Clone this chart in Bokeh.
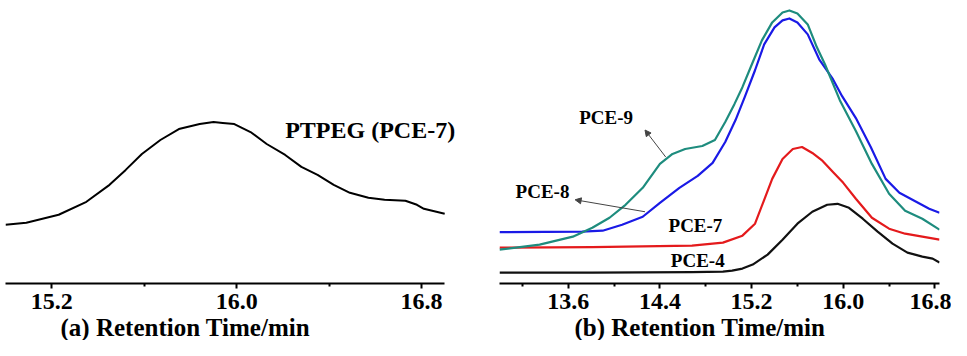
from bokeh.plotting import figure
from bokeh.layouts import row
from bokeh.models import Range1d, FixedTicker, Label, Arrow, NormalHead, Title
from bokeh.embed import file_html
from bokeh.resources import INLINE

# ---------------- data ----------------
# panel (a): PTPEG (PCE-7)
time_a = [15.00, 15.09, 15.23, 15.35, 15.45, 15.52, 15.59, 15.67, 15.75, 15.84, 15.90,
          15.94, 15.99, 16.06, 16.13, 16.21, 16.28, 16.35, 16.42, 16.49, 16.57, 16.64,
          16.73, 16.78, 16.81, 16.90]
sig_a = [59, 61, 69, 82, 99, 114, 130, 144, 155, 160, 162, 161, 160, 152, 140, 129, 117,
         109, 99, 91, 86, 84, 83, 79, 75, 70]

# panel (b)
time_pce4 = [13.00, 13.81, 14.68, 14.95, 15.03, 15.12, 15.21, 15.34, 15.47, 15.60, 15.73,
             15.86, 15.95, 16.05, 16.17, 16.30, 16.43, 16.56, 16.69, 16.78, 16.84]
sig_pce4 = [11, 11, 11.5, 12, 13, 15, 19, 29, 44, 60, 72, 79, 80, 76, 65, 52, 40, 31, 27, 25, 21]

time_pce7 = [13.00, 13.81, 14.68, 14.95, 15.12, 15.23, 15.31, 15.38, 15.47, 15.56, 15.64,
             15.73, 15.82, 15.91, 16.00, 16.11, 16.25, 16.40, 16.54, 16.69, 16.84]
sig_pce7 = [36, 36.5, 38, 41, 48, 60, 84, 105, 125, 135, 137, 131, 123, 112, 101, 85, 66,
            55, 50, 47, 44]

time_pce8 = [13.00, 13.72, 13.90, 14.07, 14.25, 14.40, 14.57, 14.73, 14.86, 14.97, 15.06,
             15.14, 15.23, 15.31, 15.40, 15.47, 15.53, 15.60, 15.69, 15.79, 15.91, 15.99,
             16.11, 16.24, 16.37, 16.49, 16.62, 16.75, 16.84]
sig_pce8 = [51.5, 52, 53, 59, 67, 81, 96, 108, 121, 142, 164, 187, 214, 240, 257, 264, 266,
            262, 250, 225, 205, 188, 166, 137, 105, 91, 83, 75, 71]

time_pce9 = [13.00, 13.35, 13.64, 13.81, 13.96, 14.10, 14.25, 14.40, 14.51, 14.62, 14.77,
             14.88, 14.97, 15.05, 15.12, 15.21, 15.29, 15.38, 15.47, 15.53, 15.60, 15.69,
             15.77, 15.84, 15.97, 16.11, 16.25, 16.40, 16.54, 16.69, 16.84]
sig_pce9 = [34, 39, 47, 56, 66, 79, 96, 120, 130, 135, 138, 144, 162, 180, 197, 222, 244,
            262, 272, 274, 271, 260, 237, 220, 184, 153, 120, 90, 73, 65, 54]

ticks_a = [15.2, 16.0, 16.8]
tick_labels_a = ["15.2", "16.0", "16.8"]
minor_a = [15.6, 16.4]
axis_span_a = (15.0, 16.9)
ticks_b = [13.6, 14.4, 15.2, 16.0, 16.8]
tick_labels_b = ["13.6", "14.4", "15.2", "16.0", "16.8"]
minor_b = [13.2, 14.0, 14.8, 15.6, 16.4]
axis_span_b = (13.0, 16.84)

series_names = ["PCE-4", "PCE-7", "PCE-8", "PCE-9"]
series_colors = ["#111111", "#e41a1c", "#1a1ae6", "#1e8c7e"]
label_x = [14.73, 14.71, 13.375, 13.93]
label_y = [23, 58, 92, 167]
# annotation arrows (start -> end) for PCE-8 and PCE-9
arrow_x0 = [14.27, 14.45]
arrow_y0 = [72, 127]
arrow_x1 = [13.66, 14.27]
arrow_y1 = [84, 154]

FONT = "Liberation Serif"
Y_TOP = 284


def style_axis(p, ticks, labels, minor, span):
    ax = p.xaxis[0]
    ax.ticker = FixedTicker(ticks=ticks, minor_ticks=minor)
    ax.bounds = span
    ax.major_label_overrides = {t: l for t, l in zip(ticks, labels)}
    ax.axis_line_width = 2
    ax.axis_line_color = "black"
    ax.major_tick_line_width = 2
    ax.minor_tick_line_width = 2
    ax.major_tick_in = 0
    ax.major_tick_out = 5
    ax.minor_tick_in = 0
    ax.minor_tick_out = 3
    ax.major_label_standoff = 5
    ax.major_label_text_font = FONT
    ax.major_label_text_font_style = "bold"
    ax.major_label_text_font_size = "24px"
    ax.major_label_text_color = "black"
    p.xgrid.visible = False
    p.ygrid.visible = False
    p.outline_line_color = None


def make_fig(width, xr, left, right):
    p = figure(width=width, height=340, x_range=Range1d(*xr), y_range=Range1d(0, Y_TOP),
               output_backend="svg", toolbar_location=None, y_axis_location=None,
               min_border_left=left, min_border_right=right, min_border_top=0,
               min_border_bottom=0)
    return p


def add_title(p, text, offset):
    p.add_layout(Title(text=text, align="left", offset=offset, text_font=FONT,
                       text_font_style="bold", text_font_size="25px", text_color="black",
                       standoff=0), "below")


# ---------------- panel (a) ----------------
# frame extends past the axis so the curve label is not clipped
pa = make_fig(490, (15.0, 16.99), 5, 25)
pa.line(time_a, sig_a, line_color="black", line_width=2, line_join="round")
style_axis(pa, ticks_a, tick_labels_a, minor_a, axis_span_a)
pa.add_layout(Label(x=16.21, y=154, text="PTPEG (PCE-7)", text_font=FONT,
                    text_font_style="bold", text_font_size="24px", text_align="left",
                    text_baseline="middle", text_color="black"))
add_title(pa, "(a) Retention Time/min", 55)

# ---------------- panel (b) ----------------
pb = make_fig(461, (13.0, 16.84), 9, 12)
for xs, ys, c in zip([time_pce4, time_pce7, time_pce8, time_pce9],
                     [sig_pce4, sig_pce7, sig_pce8, sig_pce9], series_colors):
    pb.line(xs, ys, line_color=c, line_width=2.2, line_join="round")
style_axis(pb, ticks_b, tick_labels_b, minor_b, axis_span_b)
for name, lx, ly in zip(series_names, label_x, label_y):
    pb.add_layout(Label(x=lx, y=ly, text=name, text_font=FONT, text_font_style="bold",
                        text_font_size="19px", text_align="center", text_baseline="middle",
                        text_color="black"))
for x0, y0, x1, y1 in zip(arrow_x0, arrow_y0, arrow_x1, arrow_y1):
    pb.add_layout(Arrow(x_start=x0, y_start=y0, x_end=x1, y_end=y1, line_color="#444444",
                        line_width=1,
                        end=NormalHead(size=6, line_color="#444444", fill_color="#444444")))
add_title(pb, "(b) Retention Time/min", 75)

layout = row(pa, pb)
open("out.html", "w").write(file_html(layout, INLINE))
